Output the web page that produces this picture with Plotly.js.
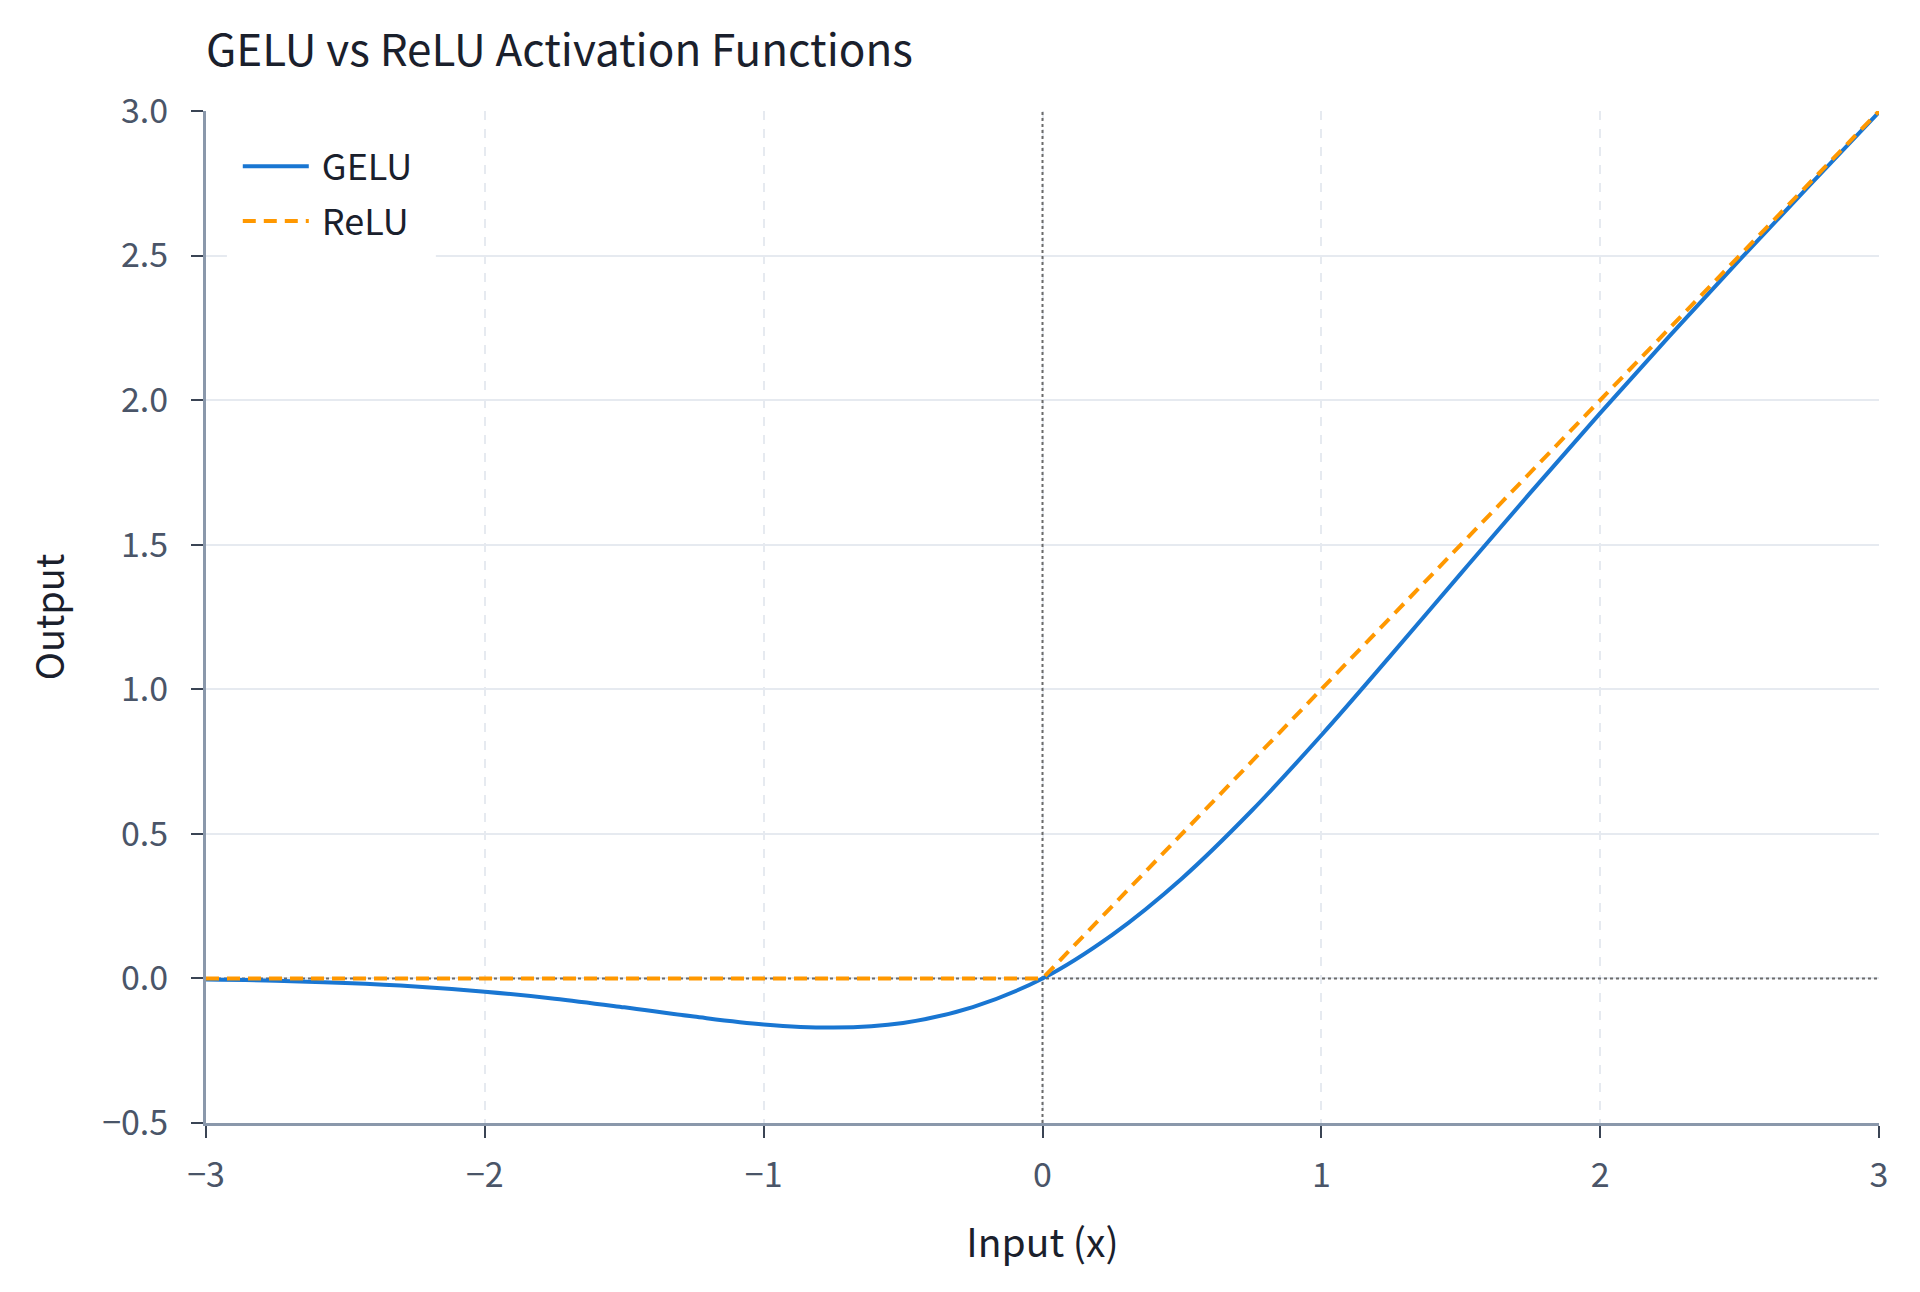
<!DOCTYPE html>
<html>
<head>
<meta charset="utf-8">
<script src="https://cdn.plot.ly/plotly-3.0.1.min.js"></script>
<style>html,body{margin:0;padding:0;background:#fff;}#chart{width:1920px;height:1292px;}</style>
</head>
<body>
<div id="chart"></div>
<script>
// Values
const geluX = [-3, -2.75, -2.5, -2.25, -2, -1.75, -1.5, -1.25, -1, -0.75, -0.5, -0.25, 0, 0.25, 0.5, 0.75, 1, 1.25, 1.5, 1.75, 2, 2.25, 2.5, 2.75, 3];
const geluY = [-0.004, -0.008, -0.016, -0.028, -0.046, -0.070, -0.100, -0.132, -0.159, -0.170, -0.154, -0.099, 0, 0.151, 0.346, 0.580, 0.841, 1.118, 1.400, 1.680, 1.955, 2.223, 2.485, 2.742, 2.996];
const reluX = [-3, 0, 3];
const reluY = [0, 0, 3];
const xTicks = [-3, -2, -1, 0, 1, 2, 3];
const xTickLabels = ['\u22123', '\u22122', '\u22121', '0', '1', '2', '3'];
const yTicks = [-0.5, 0, 0.5, 1, 1.5, 2, 2.5, 3];
const yTickLabels = ['\u22120.5', '0.0', '0.5', '1.0', '1.5', '2.0', '2.5', '3.0'];

const FONT = 'Noto Sans CJK KR, Noto Sans, sans-serif';

const traces = [
  {x: geluX, y: geluY, name: '\u00a0GELU', type: 'scatter', mode: 'lines', legendgroup: 'a',
   line: {color: '#1976d2', width: 4, shape: 'spline', smoothing: 1.0}},
  {x: reluX, y: reluY, name: '\u00a0ReLU', type: 'scatter', mode: 'lines', legendgroup: 'b',
   line: {color: '#ff9800', width: 4, dash: '13px,8px'}}
];

const layout = {
  width: 1920, height: 1292,
  margin: {l: 206, r: 41, t: 111, b: 169},
  paper_bgcolor: '#ffffff', plot_bgcolor: '#ffffff',
  font: {family: FONT, color: '#1f2733'},
  title: {text: 'GELU vs ReLU Activation Functions', font: {family: FONT, size: 44, color: '#1a202c'},
          x: 206/1920, xanchor: 'left', xref: 'container', y: 1 - 51/1292, yanchor: 'middle', yref: 'container'},
  xaxis: {range: [-3, 3], tickvals: xTicks, ticktext: xTickLabels,
          showline: true, linecolor: '#8a98ab', linewidth: 3,
          ticks: 'outside', ticklen: 12, tickwidth: 2, tickcolor: '#3a4454',
          showgrid: true, gridcolor: '#e6eaf0', gridwidth: 2, griddash: 'dash',
          zeroline: false, ticklabelstandoff: 8,
          tickfont: {family: FONT, size: 34, color: '#4a5568'},
          title: {text: 'Input (x)', font: {family: FONT, size: 39, color: '#1a202c'}, standoff: 34}},
  yaxis: {range: [-0.5, 3], tickvals: yTicks, ticktext: yTickLabels,
          showline: true, linecolor: '#8a98ab', linewidth: 3,
          ticks: 'outside', ticklen: 12, tickwidth: 2, tickcolor: '#3a4454',
          showgrid: true, gridcolor: '#e6eaf0', gridwidth: 2,
          zeroline: false, ticklabelstandoff: 16,
          tickfont: {family: FONT, size: 34, color: '#4a5568'},
          title: {text: 'Output', font: {family: FONT, size: 38, color: '#1a202c'}, standoff: 26}},
  legend: {x: 0.019, y: 0.975, xanchor: 'left', yanchor: 'top', bgcolor: '#ffffff', borderwidth: 0,
           font: {family: FONT, size: 36, color: '#1a202c'}, itemwidth: 66,
           traceorder: 'grouped', tracegroupgap: 5},
  shapes: [
    {type: 'rect', xref: 'paper', yref: 'paper', x0: 0.0125, x1: 0.1374, y0: 0.845, y1: 0.986, layer: 'above',
     fillcolor: '#ffffff', opacity: 1, line: {width: 0, color: 'rgba(0,0,0,0)'}},
    {type: 'line', xref: 'x', yref: 'y', x0: 0, x1: 0, y0: -0.5, y1: 3, layer: 'between',
     line: {color: '#6b6b6b', width: 2, dash: 'dot'}},
    {type: 'line', xref: 'x', yref: 'y', x0: -3, x1: 3, y0: 0, y1: 0, layer: 'between',
     line: {color: '#6b6b6b', width: 2, dash: 'dot'}}
  ],
  showlegend: true
};

Plotly.newPlot('chart', traces, layout, {displayModeBar: false, responsive: false});
</script>
</body>
</html>
